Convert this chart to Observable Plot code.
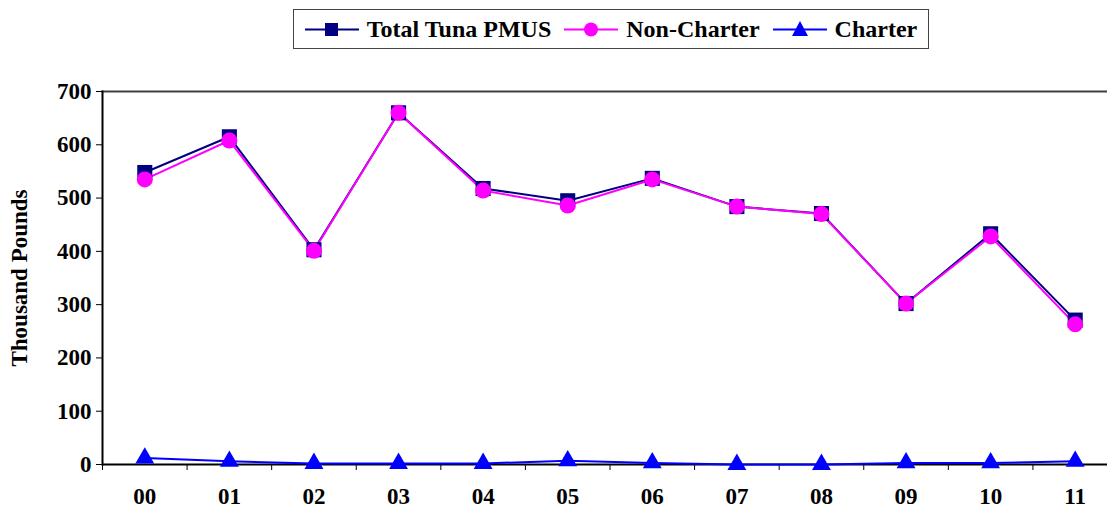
<!DOCTYPE html>
<html>
<head>
<meta charset="utf-8">
<script src="https://cdn.jsdelivr.net/npm/d3@7"></script>
<script src="https://cdn.jsdelivr.net/npm/@observablehq/plot@0.6"></script>
<style>
  html, body { margin: 0; padding: 0; background: white; width: 1107px; height: 508px; overflow: hidden; }
  #legend-row { position: relative; height: 60px; }
  #legend {
    position: absolute; left: 293px; top: 9px; width: 636px; height: 40px;
    border: 1.5px solid #444; box-sizing: border-box;
    display: flex; align-items: center; justify-content: center; gap: 13px;
    font-family: "Liberation Serif", "Times New Roman", serif; font-weight: bold; font-size: 24px; color: black;
  }
  .item { display: flex; align-items: center; gap: 8px; }
  .item svg { display: block; }
  #chart svg { display: block; }
</style>
</head>
<body>
<div id="legend-row"><div id="legend"></div></div>
<div id="chart"></div>
<script>
const years = ["00","01","02","03","04","05","06","07","08","09","10","11"];
const seriesNames = ["Total Tuna PMUS", "Non-Charter", "Charter"];
const seriesColors = ["#000080", "#FF00FF", "#0000FF"];
const seriesSymbols = ["square", "circle", "triangle"];
const total      = [548, 615, 403, 660, 518, 495, 537, 484, 471, 302, 433, 271];
const nonCharter = [535, 608, 401, 660, 514, 486, 535, 484, 470, 302, 428, 263];
const charter    = [12, 6, 2, 2, 2, 7, 3, 0, 0, 3, 3, 6];
const yTicks = [0, 100, 200, 300, 400, 500, 600, 700];
const yLabel = "Thousand Pounds";

const seriesValues = [total, nonCharter, charter];
const rows = [];
seriesNames.forEach((s, si) => {
  years.forEach((y, i) => rows.push({year: y, series: s, value: seriesValues[si][i]}));
});

const width = 1107, marginLeft = 102, marginRight = -10;
const step = (width - marginRight - marginLeft) / years.length;

const color = {domain: seriesNames, range: seriesColors};
const symR = {"square": 8.5, "circle": 8, "triangle": 7};

const marks = [
  Plot.frame({anchor: "top", stroke: "#404040", strokeWidth: 2}),
  Plot.axisY({ticks: yTicks, tickSize: 6, tickPadding: 5, tickFormat: d => String(d),
    label: yLabel, labelAnchor: "center", labelOffset: 92, labelArrow: "none", fontSize: 23}),
  Plot.axisX({tickSize: 0, tickPadding: 23, label: null, fontSize: 23}),
  Plot.axisX({tickSize: 6, dx: -step / 2, tickFormat: () => "", label: null}),
  Plot.frame({anchor: "left", stroke: "black", strokeWidth: 2}),
  Plot.ruleY([0], {stroke: "black", strokeWidth: 2}),
  Plot.line(rows, {x: "year", y: "value", z: "series", stroke: "series", strokeWidth: 2})
];
seriesNames.forEach((s, si) => {
  marks.push(Plot.dot(rows.filter(d => d.series === s), {
    x: "year", y: "value", symbol: () => seriesSymbols[si], fill: seriesColors[si], stroke: "none",
    r: symR[seriesSymbols[si]]
  }));
});

const chart = Plot.plot({
  width, height: 448,
  marginLeft, marginRight, marginTop: 31, marginBottom: 44,
  style: {fontFamily: "Liberation Serif, Times New Roman, serif", fontWeight: "bold", fontSize: "23px", color: "black", background: "white", overflow: "hidden"},
  x: {type: "band", domain: years, padding: 0, round: false},
  y: {domain: [0, 700]},
  color,
  symbol: {type: "identity"},
  marks
});
document.getElementById("chart").appendChild(chart);

// Legend
const legend = document.getElementById("legend");
seriesNames.forEach((s, si) => {
  const item = document.createElement("div");
  item.className = "item";
  const sym = seriesSymbols[si];
  const c = seriesColors[si];
  let shape;
  if (sym === "square") shape = `<rect x="20" y="8" width="13" height="13" fill="${c}"/>`;
  else if (sym === "circle") shape = `<circle cx="27" cy="14.5" r="7" fill="${c}"/>`;
  else shape = `<path d="M27,6 L35,21 L19,21 Z" fill="${c}"/>`;
  item.innerHTML = `<svg width="54" height="29"><line x1="0" x2="54" y1="14.5" y2="14.5" stroke="${c}" stroke-width="2"/>${shape}</svg><span>${s}</span>`;
  legend.appendChild(item);
});
</script>
</body>
</html>
